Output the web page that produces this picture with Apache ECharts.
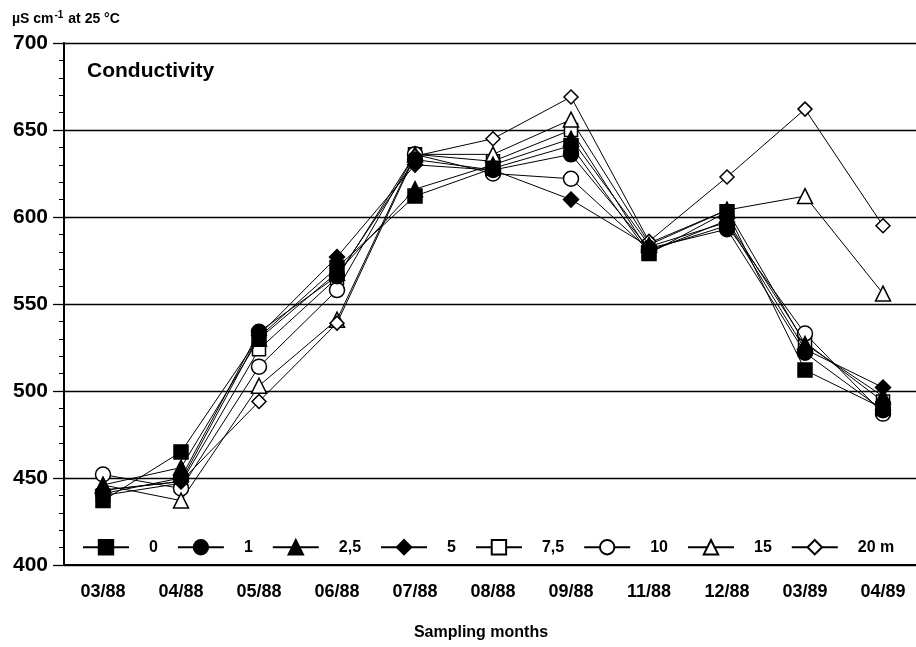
<!DOCTYPE html>
<html>
<head>
<meta charset="utf-8">
<script src="https://cdn.jsdelivr.net/npm/echarts@6/dist/echarts.min.js"></script>
<style>
	html, body { margin: 0; padding: 0; background: #fff; }
	#main { width: 916px; height: 647px; }
</style>
</head>
<body>
<div id="main"></div>
<script>
// 采样月份
var months = ['03/88', '04/88', '05/88', '06/88', '07/88', '08/88', '09/88', '11/88', '12/88', '03/89', '04/89'];
// 各深度电导率 (µS/cm, 25 °C)
var depth0 = [437, 465, 531, 571, 612, 628, 641, 579, 603, 512, 490];
var depth1 = [441, 450, 534, 566, 633, 627, 636, 582, 593, 522, 489];
var depth2_5 = [446, 456, 530, 568, 616, 630, 645, 584, 604, 527, 497];
var depth5 = [443, 448, 532, 577, 630, 627, 610, 583, 597, 524, 502];
var depth7_5 = [440, 447, 524, 565, 636, 632, 650, 580, 598, 528, 494];
var depth10 = [452, 444, 514, 558, 636, 625, 622, 581, 595, 533, 487];
var depth15 = [446, 437, 503, 541, 636, 636, 656, 585, 604, 612, 556];
var depth20 = [443, 448, 494, 539, 635, 645, 669, 586, 623, 662, 595];
var seriesNames = ['0', '1', '2,5', '5', '7,5', '10', '15', '20 m'];
var yTicks = [400, 450, 500, 550, 600, 650, 700];

var FONT = '"Liberation Sans", Arial, sans-serif';

function makeSeries(name, data, symbol, filled, size) {
	return {
		name: name,
		type: 'line',
		data: data,
		symbol: symbol,
		symbolSize: size,
		z: filled ? 4 : 3,
		lineStyle: { color: '#000', width: 1 },
		itemStyle: {
			color: filled ? '#000' : '#fff',
			borderColor: '#000',
			borderWidth: 1.5
		},
		emphasis: { disabled: true }
	};
}

var myChart = echarts.init(document.getElementById('main'), null, { renderer: 'canvas' });
var option = {
	animation: false,
	backgroundColor: '#fff',
	textStyle: { fontFamily: FONT, color: '#000' },
	title: [{
		text: 'Conductivity',
		left: 82,
		top: 56,
		textStyle: { fontFamily: FONT, fontSize: 21, fontWeight: 'bold', color: '#000' }
	}, {
		text: '{a|µS cm}{s|-1}{a| at 25 °C}',
		left: 7,
		top: 5,
		textStyle: {
			rich: {
				a: { fontFamily: FONT, fontSize: 14, fontWeight: 'bold', color: '#000' },
				s: { fontFamily: FONT, fontSize: 10, fontWeight: 'bold', color: '#000', padding: [0, 1, 8, 1] }
			}
		}
	}],
	// 横轴标题
	graphic: [{
		type: 'text',
		x: 481,
		y: 633,
		style: {
			text: 'Sampling months',
			font: 'bold 16px ' + FONT,
			fill: '#000',
			align: 'center',
			verticalAlign: 'middle'
		}
	}],
	grid: {
		left: 64,
		top: 43,
		width: 858,
		bottom: 82,
		outerBoundsMode: 'none',
		containLabel: false
	},
	legend: {
		left: 77,
		top: 534,
		itemWidth: 46,
		itemHeight: 18,
		itemGap: 19,
		selectedMode: false,
		data: seriesNames,
		textStyle: { fontFamily: FONT, fontSize: 16, fontWeight: 'bold', color: '#000', padding: [0, 0, 0, 15] }
	},
	xAxis: {
		type: 'category',
		data: months,
		axisLine: { lineStyle: { color: '#000', width: 2 } },
		axisTick: { length: 8, lineStyle: { color: '#000', width: 1.5 } },
		axisLabel: { margin: 18, fontFamily: FONT, fontSize: 18, fontWeight: 'bold', color: '#000' },
		splitLine: { show: false }
	},
	yAxis: {
		type: 'value',
		min: yTicks[0],
		max: yTicks[yTicks.length - 1],
		interval: 50,
		axisLine: { show: true, lineStyle: { color: '#000', width: 2 } },
		axisTick: { show: true, length: 11, lineStyle: { color: '#000', width: 1.3 } },
		minorTick: { show: true, splitNumber: 5, length: 5, lineStyle: { color: '#000', width: 1 } },
		axisLabel: { margin: 16, fontFamily: FONT, fontSize: 21, fontWeight: 'bold', color: '#000' },
		splitLine: { show: true, lineStyle: { color: '#000', width: 1.3 } }
	},
	series: [
		makeSeries(seriesNames[0], depth0, 'rect', true, 14),
		makeSeries(seriesNames[1], depth1, 'circle', true, 15),
		makeSeries(seriesNames[2], depth2_5, 'triangle', true, 15),
		makeSeries(seriesNames[3], depth5, 'diamond', true, 15),
		makeSeries(seriesNames[4], depth7_5, 'rect', false, 13),
		makeSeries(seriesNames[5], depth10, 'circle', false, 15),
		makeSeries(seriesNames[6], depth15, 'triangle', false, 15),
		makeSeries(seriesNames[7], depth20, 'diamond', false, 14)
	]
};
myChart.setOption(option);
</script>
</body>
</html>
